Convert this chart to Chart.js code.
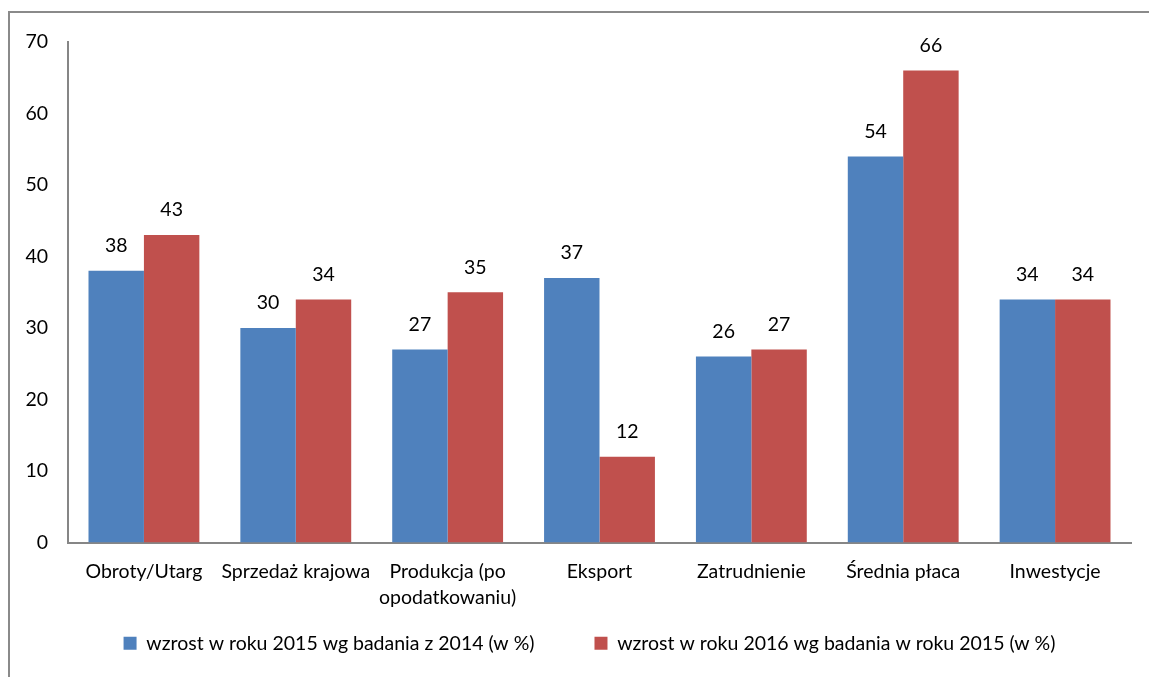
<!DOCTYPE html>
<html>
<head>
<meta charset="utf-8">
<script src="https://cdn.jsdelivr.net/npm/chart.js@4"></script>
<style>
  html, body { margin: 0; padding: 0; background: #fff; overflow: hidden; }
  #frame {
    position: absolute; left: 8px; top: 11px; width: 1300px; height: 800px;
    border: 2px solid #8a8a8a; box-sizing: border-box;
  }
  #wrap { position: absolute; left: 0; top: 0; width: 1149px; height: 677px; }
</style>
</head>
<body>
<div id="frame"></div>
<div id="wrap"><canvas id="chart"></canvas></div>
<script>
const categories = ['Obroty/Utarg', 'Sprzedaż krajowa', ['Produkcja (po', 'opodatkowaniu)'],
    'Eksport', 'Zatrudnienie', 'Średnia płaca', 'Inwestycje'];
const growth2015 = [38, 30, 27, 37, 26, 54, 34];
const growth2016 = [43, 34, 35, 12, 27, 66, 34];
const yTicks = [0, 10, 20, 30, 40, 50, 60, 70];

const FONT = 'Lato, "Open Sans", sans-serif';
const FS = 19.5;

// value labels above each bar
const barLabels = {
    id: 'barLabels',
    afterLayout(chart) {
        // tick labels hang outside the tight scale boxes, so widen their clip regions
        chart.scales.x.bottom += 70;
        chart.scales.y.left = 0;
    },
    afterDatasetsDraw(chart) {
        const ctx = chart.ctx;
        ctx.save();
        ctx.font = FS + 'px ' + FONT;
        ctx.fillStyle = '#000';
        ctx.textAlign = 'center';
        ctx.textBaseline = 'middle';
        chart.data.datasets.forEach((ds, i) => {
            chart.getDatasetMeta(i).data.forEach((bar, j) => {
                ctx.fillText(ds.data[j], bar.x, bar.y - 25);
            });
        });
        ctx.restore();
    }
};

new Chart(document.getElementById('chart'), {
    type: 'bar',
    data: {
        labels: categories,
        datasets: [
            {
                label: 'wzrost w roku 2015 wg badania z 2014 (w %)',
                data: growth2015,
                backgroundColor: '#4f81bd'
            },
            {
                label: 'wzrost w roku 2016 wg badania w roku 2015 (w %)',
                data: growth2016,
                backgroundColor: '#c0504d'
            }
        ]
    },
    options: {
        responsive: true,
        maintainAspectRatio: false,
        animation: false,
        layout: { padding: { top: 42, right: 18, bottom: 14, left: 48 } },
        datasets: { bar: { categoryPercentage: 0.73, barPercentage: 1.0 } },
        scales: {
            x: {
                grid: { display: false },
                border: { display: true, color: '#868686', width: 2 },
                ticks: {
                    color: '#000', font: { size: FS, family: FONT, lineHeight: 1.3 },
                    maxRotation: 0, autoSkip: false, padding: 9
                },
                afterFit(scale) { scale.height = 31; }
            },
            y: {
                min: 0,
                max: 70,
                afterBuildTicks(scale) { scale.ticks = yTicks.map(v => ({ value: v })); },
                grid: { display: false },
                border: { display: true, color: '#868686', width: 2 },
                ticks: { color: '#000', font: { size: FS, family: FONT }, padding: 12 },
                afterFit(scale) { scale.width = 20; }
            }
        },
        plugins: {
            legend: {
                position: 'bottom',
                labels: {
                    color: '#000',
                    font: { size: FS, family: FONT },
                    boxWidth: 13,
                    boxHeight: 13,
                    padding: 60
                }
            },
            tooltip: { enabled: false }
        }
    },
    plugins: [barLabels]
});
</script>
</body>
</html>
